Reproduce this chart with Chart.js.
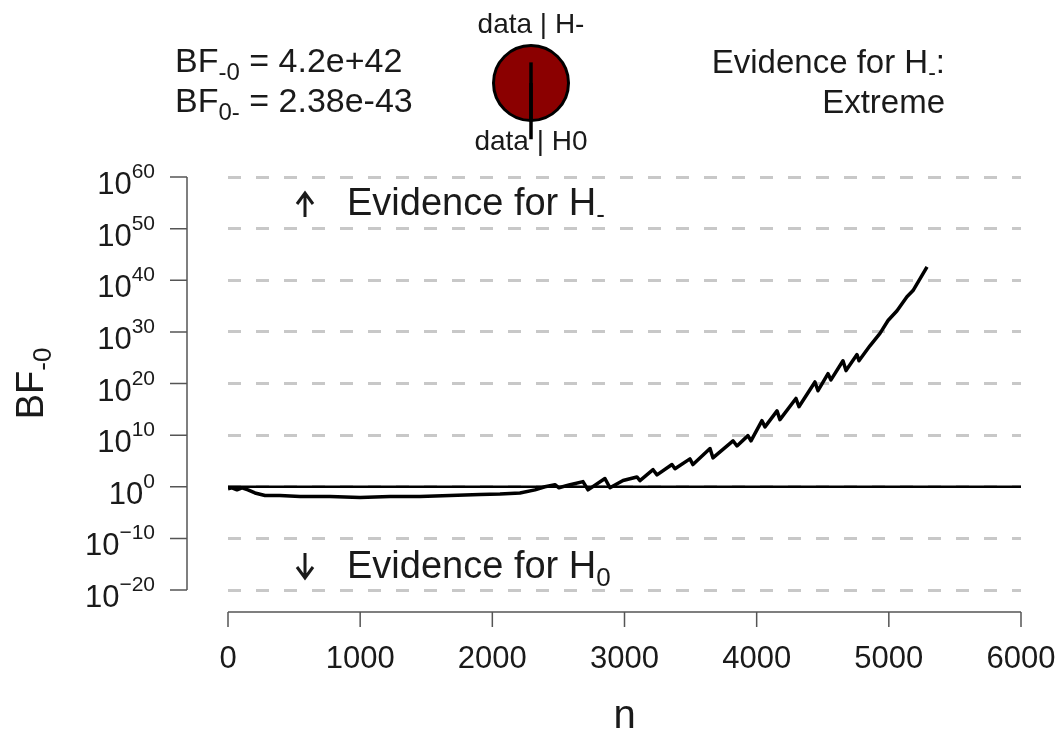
<!DOCTYPE html>
<html>
<head>
<meta charset="utf-8">
<script src="https://cdn.jsdelivr.net/npm/chart.js@4.4.1/dist/chart.umd.min.js"></script>
<style>
  html, body { margin: 0; padding: 0; background: #fff; }
  #wrap { position: relative; width: 1063px; height: 736px; }
  #bfChart { position: absolute; left: 0; top: 0; }
  #pieChart { position: absolute; left: 481px; top: 41px; }
</style>
</head>
<body>
<div id="wrap">
  <canvas id="bfChart" width="1063" height="736"></canvas>
  <canvas id="pieChart" width="100" height="104"></canvas>
</div>
<script>
// sequential analysis: n and log10(BF-0)
const nValues = [0, 30, 68, 106, 151, 204, 280, 393, 545, 772, 999, 1226, 1453, 1680, 1907, 2058, 2209, 2323, 2398, 2474,
  2504, 2588, 2686, 2724, 2852, 2890, 2989, 3094, 3117, 3216, 3246, 3359, 3382, 3495, 3518, 3647, 3669, 3821, 3851, 3934,
  3957, 4040, 4063, 4154, 4176, 4297, 4320, 4441, 4464, 4540, 4562, 4653, 4676, 4759, 4774, 4857, 4933, 4994, 5062, 5137,
  5183, 5289];
const bfLog10 = [-0.4, -0.2, -0.6, -0.2, -0.6, -1.2, -1.7, -1.7, -1.9, -1.9, -2.1, -1.9, -1.9, -1.7, -1.5, -1.4, -1.2, -0.6, 0, 0.4,
  -0.2, 0.4, 1.0, -0.6, 1.6, -0.2, 1.2, 1.9, 1.2, 3.3, 2.3, 4.3, 3.5, 5.4, 4.3, 7.4, 5.6, 8.9, 7.9, 9.9,
  8.9, 12.8, 11.6, 14.7, 13.0, 17.1, 15.5, 20.3, 18.6, 21.9, 20.7, 24.4, 22.5, 25.6, 24.4, 27.3, 29.7, 32.2, 34.1, 36.8,
  38.0, 42.6];

// BF = 1 reference line
const refN = [0, 6000];
const refLevel = [1, 1];

const xTicks = [0, 1000, 2000, 3000, 4000, 5000, 6000];
const yTickExp = [-20, -10, 0, 10, 20, 30, 40, 50, 60];

// probability wheel
const pieLabels = ['data | H-', 'data | H0'];
const pieValues = [4.2e42, 1];
const bfText = ['4.2e+42', '2.38e-43'];
const evidenceText = 'Extreme';

const FONT = '"Liberation Sans", Arial, sans-serif';
const INK = '#1a1a1a';

function drawParts(ctx, parts, x, y, align) {
    let w = 0;
    parts.forEach(p => {
        ctx.font = p.size + 'px ' + FONT;
        p.w = ctx.measureText(p.text).width;
        w += p.w;
    });
    let cx = align === 'right' ? x - w : align === 'center' ? x - w / 2 : x;
    ctx.textAlign = 'left';
    ctx.textBaseline = 'alphabetic';
    parts.forEach(p => {
        ctx.font = p.size + 'px ' + FONT;
        ctx.fillText(p.text, cx, y + (p.dy || 0));
        cx += p.w;
    });
}

function arrow(ctx, x, yFrom, yTo) {
    const dir = yTo < yFrom ? 1 : -1;
    ctx.beginPath();
    ctx.moveTo(x, yFrom);
    ctx.lineTo(x, yTo);
    ctx.moveTo(x - 8, yTo + dir * 11);
    ctx.lineTo(x, yTo);
    ctx.lineTo(x + 8, yTo + dir * 11);
    ctx.stroke();
}

// R style detached axes, tick labels with exponents and the text around the plot
const rAxes = {
    id: 'rAxes',
    afterDraw(chart) {
        const { ctx, scales: { x, y } } = chart;
        const x0 = x.getPixelForValue(xTicks[0]);
        const x1 = x.getPixelForValue(xTicks[xTicks.length - 1]);
        const yTop = y.getPixelForValue(10 ** yTickExp[yTickExp.length - 1]);
        const yBot = y.getPixelForValue(10 ** yTickExp[0]);
        const axX = x0 - 41;
        const axY = yBot + 22;

        ctx.save();
        ctx.strokeStyle = '#555';
        ctx.lineWidth = 1.5;
        ctx.beginPath();
        ctx.moveTo(axX, yTop);
        ctx.lineTo(axX, yBot);
        yTickExp.forEach(e => {
            const p = y.getPixelForValue(10 ** e);
            ctx.moveTo(axX - 17, p);
            ctx.lineTo(axX, p);
        });
        ctx.moveTo(x0, axY);
        ctx.lineTo(x1, axY);
        xTicks.forEach(v => {
            const p = x.getPixelForValue(v);
            ctx.moveTo(p, axY);
            ctx.lineTo(p, axY + 15);
        });
        ctx.stroke();

        ctx.fillStyle = INK;
        yTickExp.forEach(e => {
            const p = y.getPixelForValue(10 ** e);
            drawParts(ctx, [
                { text: '10', size: 31, dy: 17 },
                { text: String(e).replace('-', '\u2212'), size: 21, dy: 1 }
            ], axX - 32, p, 'right');
        });
        xTicks.forEach(v => drawParts(ctx, [{ text: String(v), size: 31 }], x.getPixelForValue(v), axY + 56, 'center'));

        // axis titles
        drawParts(ctx, [{ text: 'n', size: 40 }], (x0 + x1) / 2, 728, 'center');
        ctx.save();
        ctx.translate(43, (yTop + yBot) / 2);
        ctx.rotate(-Math.PI / 2);
        drawParts(ctx, [{ text: 'BF', size: 38 }, { text: '-0', size: 26, dy: 8 }], 0, 0, 'center');
        ctx.restore();

        // evidence arrows
        ctx.strokeStyle = INK;
        ctx.lineWidth = 3;
        arrow(ctx, 305, yTop + 40, yTop + 16);
        arrow(ctx, 305, yBot - 37, yBot - 12);
        drawParts(ctx, [{ text: 'Evidence for H', size: 38 }, { text: '-', size: 26, dy: 8 }], 347, yTop + 38, 'left');
        drawParts(ctx, [{ text: 'Evidence for H', size: 38 }, { text: '0', size: 26, dy: 8 }], 347, yBot - 12, 'left');

        // header
        drawParts(ctx, [{ text: 'BF', size: 34 }, { text: '-0', size: 24, dy: 8 }, { text: ' = ' + bfText[0], size: 34 }], 175, 72, 'left');
        drawParts(ctx, [{ text: 'BF', size: 34 }, { text: '0-', size: 24, dy: 8 }, { text: ' = ' + bfText[1], size: 34 }], 175, 112, 'left');
        drawParts(ctx, [{ text: 'Evidence for H', size: 33 }, { text: '-', size: 23, dy: 7 }, { text: ':', size: 33 }], 945, 73, 'right');
        drawParts(ctx, [{ text: evidenceText, size: 33 }], 945, 113, 'right');
        drawParts(ctx, [{ text: pieLabels[0], size: 28 }], 531, 33, 'center');
        drawParts(ctx, [{ text: pieLabels[1], size: 28 }], 531, 150, 'center');
        ctx.restore();
    }
};

const pieLine = {
    id: 'pieLine',
    afterDraw(chart) {
        const arc = chart.getDatasetMeta(0).data[0];
        const ctx = chart.ctx;
        ctx.save();
        ctx.strokeStyle = '#000';
        ctx.lineWidth = 3.5;
        ctx.beginPath();
        ctx.moveTo(arc.x, arc.y - 0.55 * arc.outerRadius);
        ctx.lineTo(arc.x, arc.y + 1.5 * arc.outerRadius);
        ctx.stroke();
        ctx.restore();
    }
};

new Chart(document.getElementById('bfChart'), {
    type: 'line',
    data: {
        datasets: [
            {
                data: nValues.map((n, i) => ({ x: n, y: 10 ** bfLog10[i] })),
                borderColor: '#000',
                borderWidth: 3.5,
                pointRadius: 0,
                tension: 0,
                borderJoinStyle: 'round'
            },
            {
                data: refN.map((n, i) => ({ x: n, y: refLevel[i] })),
                borderColor: '#000',
                borderWidth: 2.5,
                pointRadius: 0
            }
        ]
    },
    options: {
        responsive: false,
        animation: false,
        devicePixelRatio: 1,
        layout: { padding: { left: 228, right: 42, top: 177, bottom: 146 } },
        plugins: { legend: { display: false }, tooltip: { enabled: false } },
        scales: {
            x: { type: 'linear', min: 0, max: 6000, display: false },
            y: {
                type: 'logarithmic',
                min: 1e-20,
                max: 1e60,
                afterBuildTicks: s => { s.ticks = yTickExp.map(e => ({ value: 10 ** e })); },
                ticks: { display: false, padding: 0 },
                grid: { color: '#c8c8c8', lineWidth: 3, drawTicks: false },
                border: { display: false, dash: [13, 15] }
            }
        }
    },
    plugins: [rAxes]
});

new Chart(document.getElementById('pieChart'), {
    type: 'pie',
    data: {
        labels: pieLabels,
        datasets: [{
            data: pieValues,
            backgroundColor: ['#8b0000', '#ffffff'],
            borderColor: '#000',
            borderWidth: 3
        }]
    },
    options: {
        responsive: false,
        animation: false,
        devicePixelRatio: 1,
        rotation: 180,
        layout: { padding: { left: 11, right: 11, top: 3, bottom: 23 } },
        plugins: { legend: { display: false }, tooltip: { enabled: false } }
    },
    plugins: [pieLine]
});
</script>
</body>
</html>
